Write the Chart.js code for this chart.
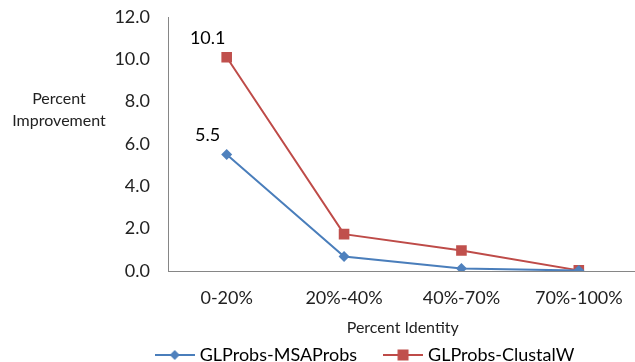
<!DOCTYPE html>
<html><head><meta charset="utf-8">
<script src="https://cdn.jsdelivr.net/npm/chart.js@4.4.1/dist/chart.umd.min.js"></script>
<style>
html,body{margin:0;padding:0;background:#fff;overflow:hidden;width:635px;height:362px;}
#wrap{position:absolute;left:0;top:0;width:645px;height:374px;}
</style></head>
<body>
<div id="wrap"><canvas id="c" width="645" height="374"></canvas></div>
<script>
const categories = ['0-20%', '20%-40%', '40%-70%', '70%-100%'];
const msaProbs = [5.5, 0.68, 0.12, 0.02];
const clustalW = [10.1, 1.74, 0.97, 0.03];
const seriesNames = ['GLProbs-MSAProbs', 'GLProbs-ClustalW'];
const yTicks = [0, 2, 4, 6, 8, 10, 12];
const labeledPoint = 0; // only the first category carries value labels
const xTitle = 'Percent Identity';
const yTitleLines = ['Percent', 'Improvement'];

const FONT = 'Lato';
const blueLine = '#4A7EBB', blueFill = '#4F81BD';
const redLine = '#BE4B48', redFill = '#C0504D';

function legendIcon(line, fill, style) {
  const cv = document.createElement('canvas');
  cv.width = 40; cv.height = 14;
  const g = cv.getContext('2d');
  g.strokeStyle = line; g.lineWidth = 2;
  g.beginPath(); g.moveTo(0, 7); g.lineTo(40, 7); g.stroke();
  g.fillStyle = fill;
  if (style === 'diamond') {
    g.beginPath(); g.moveTo(20, 2); g.lineTo(25, 7); g.lineTo(20, 12); g.lineTo(15, 7); g.closePath(); g.fill();
  } else {
    g.fillRect(14.5, 1.5, 11, 11);
  }
  return cv;
}
const icons = [legendIcon(blueLine, blueFill, 'diamond'), legendIcon(redLine, redFill, 'square')];

const extras = {
  id: 'extras',
  afterLayout(chart) {
    const lg = chart.legend;
    lg.left += 44; lg.right += 44;
  },
  afterDatasetsDraw(chart) {
    const ctx = chart.ctx;
    ctx.save();
    ctx.fillStyle = '#000';
    ctx.font = '18px ' + FONT;
    ctx.textAlign = 'center';
    ctx.textBaseline = 'middle';
    chart.data.datasets.forEach((ds, i) => {
      const p = chart.getDatasetMeta(i).data[labeledPoint];
      ctx.fillText(ds.data[labeledPoint].toFixed(1), p.x - 19, p.y - 19);
    });
    ctx.fillStyle = '#222';
    ctx.font = '16px ' + FONT;
    ctx.fillText(yTitleLines[0], 59, 99);
    ctx.fillText(yTitleLines[1], 59, 121);
    ctx.restore();
  }
};

new Chart(document.getElementById('c'), {
  type: 'line',
  data: {
    labels: categories,
    datasets: [
      { label: seriesNames[0], data: msaProbs, borderColor: blueLine, backgroundColor: blueFill,
        borderWidth: 2, pointStyle: 'rectRot', pointRadius: 5.5, pointBorderWidth: 0,
        pointBackgroundColor: blueFill, tension: 0 },
      { label: seriesNames[1], data: clustalW, borderColor: redLine, backgroundColor: redFill,
        borderWidth: 2, pointStyle: 'rect', pointRadius: 7.5, pointBorderWidth: 0,
        pointBackgroundColor: redFill, tension: 0 }
    ]
  },
  options: {
    responsive: false,
    animation: false,
    layout: { padding: { top: 17, left: 0, right: 0, bottom: 0 } },
    plugins: {
      tooltip: { enabled: false },
      legend: {
        position: 'bottom',
        labels: {
          font: { family: FONT, size: 18 },
          color: '#222',
          usePointStyle: true,
          pointStyleWidth: 32,
          padding: 30,
          generateLabels(chart) {
            return chart.data.datasets.map((ds, i) => ({
              text: ds.label, pointStyle: icons[i], fillStyle: ds.backgroundColor,
              strokeStyle: ds.borderColor, lineWidth: 0, datasetIndex: i, hidden: false
            }));
          }
        }
      }
    },
    scales: {
      x: {
        offset: true,
        afterFit(s) { s.height = s.chart.height - s.chart.legend.height - 271; },
        grid: { display: false, drawTicks: false },
        border: { color: '#868686', width: 1 },
        ticks: { font: { family: FONT, size: 18 }, color: '#222', padding: 16 },
        title: { display: true, text: xTitle, font: { family: FONT, size: 16 }, color: '#222', padding: { top: 0, bottom: -21 } }
      },
      y: {
        min: 0, max: 12,
        afterFit(s) { s.width = 168; s.paddingTop = 0; s.paddingBottom = 0; },
        afterBuildTicks(s) { s.ticks = yTicks.map(v => ({ value: v })); },
        grid: { display: false, drawTicks: false },
        border: { color: '#868686', width: 1 },
        ticks: { font: { family: FONT, size: 18 }, color: '#222', padding: 18,
          callback: v => Number(v).toFixed(1) }
      }
    }
  },
  plugins: [extras]
});
</script>
</body></html>
